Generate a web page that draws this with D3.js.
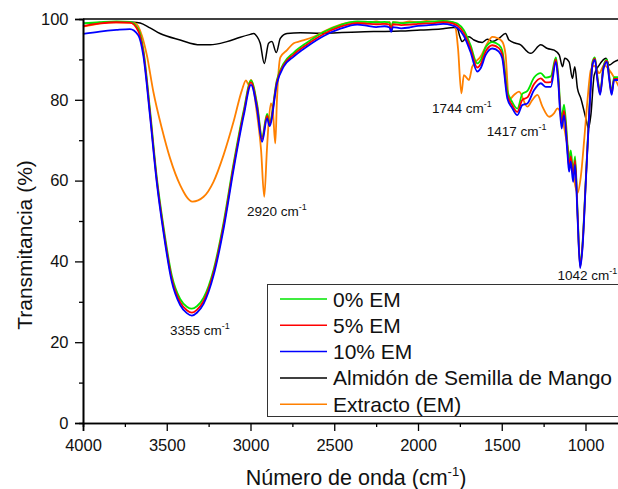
<!DOCTYPE html>
<html>
<head>
<meta charset="utf-8">
<script src="https://cdn.jsdelivr.net/npm/d3@7"></script>
<style>
  body { margin: 0; background: #fff; }
  svg text { font-family: "Liberation Sans", Arial, sans-serif; fill: #111; }
</style>
</head>
<body>
<div id="chart"></div>
<script>
// wavenumber grid shared by the three film samples
const filmWn = [4000, 3900, 3800, 3720, 3670, 3640, 3600, 3560, 3520, 3470, 3420, 3380, 3350, 3320, 3280, 3220, 3160, 3100, 3040, 2997, 2960, 2931, 2901, 2886, 2842, 2802, 2742, 2662, 2563, 2463, 2363, 2300, 2250, 2200, 2170, 2160, 2150, 2100, 2050, 2000, 1950, 1900, 1850, 1800, 1765, 1726, 1687, 1646, 1626, 1596, 1556, 1517, 1497, 1467, 1437, 1407, 1377, 1347, 1307, 1267, 1237, 1207, 1177, 1163, 1143, 1128, 1107, 1098, 1088, 1074, 1062, 1048, 1032, 1018, 998, 978, 958, 944, 928, 913, 892, 872, 859, 844, 829, 800];

const em0 = [98.9, 99.2, 99.4, 99.3, 97.5, 92.5, 77.5, 61.0, 48.8, 36.5, 30.7, 28.8, 28.3, 28.9, 31.0, 38.0, 49.8, 64.5, 77.5, 84.8, 78.8, 70.8, 76.5, 74.5, 85.0, 89.0, 91.7, 94.2, 96.8, 98.5, 99.4, 99.3, 99.2, 99.3, 99.1, 97.3, 99.2, 99.0, 99.1, 99.2, 99.3, 99.4, 99.5, 99.3, 98.9, 97.2, 93.6, 89.0, 89.8, 93.0, 94.3, 93.6, 92.2, 82.4, 79.4, 77.8, 81.5, 82.2, 85.5, 86.6, 85.5, 85.8, 90.5, 86.3, 75.4, 78.8, 68.8, 64.5, 67.5, 62.5, 66.0, 53.0, 39.0, 44.3, 60.5, 77.0, 89.5, 90.5, 85.5, 82.0, 88.5, 90.0, 86.2, 82.0, 85.6, 85.6];

const em5 = [98.2, 98.9, 99.2, 99.1, 97.0, 91.8, 76.7, 60.3, 48.0, 35.7, 29.9, 27.9, 27.3, 28.0, 30.2, 37.3, 49.0, 63.8, 76.9, 84.3, 78.2, 70.2, 76.0, 74.0, 84.6, 88.6, 91.2, 93.7, 96.3, 98.1, 99.0, 98.8, 98.7, 98.8, 98.6, 97.0, 98.7, 98.5, 98.6, 98.8, 98.9, 99.0, 99.2, 99.0, 98.4, 96.5, 92.8, 88.0, 88.8, 92.0, 93.5, 92.8, 91.2, 81.3, 78.6, 77.0, 80.0, 80.6, 83.9, 85.3, 84.3, 84.4, 90.0, 85.3, 74.0, 77.3, 67.5, 63.3, 66.0, 61.0, 65.0, 52.2, 38.6, 43.8, 60.1, 76.6, 89.0, 90.2, 85.0, 81.6, 88.1, 89.7, 85.7, 81.6, 85.2, 85.2];

const em10 = [96.3, 96.9, 97.3, 97.5, 96.0, 91.0, 76.0, 59.7, 47.3, 35.0, 29.2, 27.2, 26.6, 27.3, 29.5, 36.6, 48.2, 63.0, 76.2, 83.7, 77.5, 69.6, 75.4, 73.5, 84.1, 88.2, 90.7, 93.2, 95.8, 97.6, 98.6, 98.3, 98.0, 98.2, 97.9, 96.8, 98.0, 97.7, 97.9, 98.3, 98.4, 98.6, 98.8, 98.5, 97.8, 95.8, 91.9, 87.0, 87.8, 91.1, 92.7, 91.9, 90.3, 80.4, 77.9, 76.2, 78.7, 79.1, 82.4, 84.1, 83.2, 83.2, 89.4, 84.5, 72.9, 76.2, 66.3, 62.2, 64.7, 59.7, 63.9, 51.5, 38.3, 43.3, 59.7, 76.2, 88.6, 89.9, 84.5, 81.2, 87.8, 89.4, 85.3, 81.2, 84.9, 84.9];

// mango seed starch
const starchWn = [4000, 3800, 3700, 3659, 3600, 3540, 3420, 3300, 3241, 3141, 3061, 3001, 2982, 2962, 2942, 2918, 2892, 2872, 2846, 2822, 2782, 2702, 2583, 2264, 2104, 1985, 1865, 1786, 1765, 1750, 1736, 1716, 1696, 1666, 1616, 1586, 1556, 1517, 1477, 1457, 1417, 1387, 1347, 1327, 1267, 1227, 1187, 1157, 1137, 1124, 1098, 1078, 1064, 1048, 1028, 998, 982, 968, 948, 918, 878, 858, 829, 800];
const starch = [98.9, 99.2, 99.2, 99.0, 97.8, 96.4, 94.8, 93.6, 93.6, 94.4, 95.5, 96.2, 96.4, 95.7, 94.0, 89.0, 94.0, 94.4, 91.7, 95.2, 96.4, 96.6, 96.5, 96.9, 97.0, 97.3, 97.5, 97.9, 97.6, 95.6, 94.4, 95.2, 95.6, 94.8, 94.2, 95.0, 94.4, 95.2, 96.4, 94.8, 94.0, 93.6, 91.9, 91.5, 93.6, 92.7, 92.3, 91.1, 88.2, 90.3, 89.4, 85.3, 88.2, 82.8, 80.4, 75.4, 72.9, 76.2, 86.1, 88.6, 90.3, 88.6, 89.4, 89.9];

// mango extract (EM)
const extWn = [4000, 3819, 3689, 3649, 3619, 3580, 3529, 3480, 3420, 3346, 3280, 3221, 3161, 3101, 3051, 3027, 3012, 2997, 2962, 2937, 2918, 2902, 2892, 2878, 2866, 2852, 2842, 2822, 2782, 2742, 2702, 2622, 2563, 2383, 2300, 2250, 2200, 2170, 2160, 2150, 2100, 2050, 2000, 1950, 1900, 1850, 1795, 1775, 1761, 1741, 1726, 1696, 1676, 1626, 1586, 1556, 1527, 1497, 1477, 1457, 1427, 1397, 1347, 1317, 1287, 1257, 1217, 1187, 1167, 1137, 1107, 1078, 1048, 1028, 1008, 988, 968, 948, 918, 889, 859, 829, 800];
const extracto = [98.1, 99.2, 99.0, 96.0, 91.1, 82.0, 72.9, 65.5, 58.9, 54.8, 56.0, 59.7, 66.3, 74.6, 82.4, 84.8, 83.8, 84.9, 76.7, 67.6, 56.0, 67.6, 74.2, 79.1, 77.0, 69.2, 80.0, 90.5, 92.3, 94.0, 94.5, 95.6, 96.9, 99.2, 99.0, 99.4, 98.9, 99.3, 97.5, 99.2, 99.1, 99.4, 99.2, 99.5, 99.3, 99.4, 99.3, 97.7, 92.7, 81.6, 86.1, 84.9, 88.2, 90.7, 94.0, 95.6, 95.3, 94.4, 91.1, 80.0, 81.2, 82.0, 78.3, 80.0, 81.2, 78.3, 75.8, 76.7, 77.9, 75.0, 68.4, 62.6, 56.9, 61.0, 70.0, 80.0, 87.4, 88.4, 86.6, 88.6, 87.4, 85.5, 83.2];

const xTicks = [4000, 3500, 3000, 2500, 2000, 1500, 1000];
const yTicks = [0, 20, 40, 60, 80, 100];

const series = [
  { name: "0% EM", color: "#00e600", wn: filmWn, t: em0 },
  { name: "5% EM", color: "#ff0000", wn: filmWn, t: em5 },
  { name: "10% EM", color: "#0000ff", wn: filmWn, t: em10 },
  { name: "Almidón de Semilla de Mango", color: "#000000", wn: starchWn, t: starch },
  { name: "Extracto (EM)", color: "#ff8000", wn: extWn, t: extracto }
];

const peaks = [
  { label: "3355", wn: 3355, t: 26.6, dx: -21, dy: 19.5 },
  { label: "2920", wn: 2920, t: 56, dx: -17, dy: 19 },
  { label: "1744", wn: 1744, t: 81.6, dx: -29, dy: 20 },
  { label: "1417", wn: 1417, t: 76.2, dx: -29, dy: 21 },
  { label: "1042", wn: 1042, t: 38.3, dx: -21, dy: 12 }
];

const width = 618, height = 489;
const margin = { top: 19, right: -1, bottom: 66, left: 83 };

const svg = d3.select("#chart").append("svg")
  .attr("width", width)
  .attr("height", height);

const x = d3.scaleLinear()
  .domain([4000, 800])
  .range([margin.left, width - margin.right]);

const y = d3.scaleLinear()
  .domain([0, 100])
  .range([height - margin.bottom, margin.top]);

// curves, black and orange go underneath the films
const line = d3.line()
  .x(d => x(d[0]))
  .y(d => y(d[1]))
  .curve(d3.curveMonotoneX);

const drawOrder = [3, 4, 0, 1, 2];
drawOrder.forEach(i => {
  const s = series[i];
  svg.append("path")
    .datum(s.wn.map((w, j) => [w, s.t[j]]))
    .attr("d", line)
    .attr("fill", "none")
    .attr("stroke", s.color)
    .attr("stroke-width", i == 3 ? 1.5 : 1.8)
    .attr("stroke-linejoin", "round");
});

// frame
svg.append("line")
  .attr("x1", x(4000)).attr("x2", x(800))
  .attr("y1", y(100)).attr("y2", y(100))
  .attr("stroke", "#000").attr("stroke-width", 1.3);
svg.append("line")
  .attr("x1", x(800)).attr("x2", x(800))
  .attr("y1", y(100)).attr("y2", y(0))
  .attr("stroke", "#000").attr("stroke-width", 1.3);

// axes
const xAxis = d3.axisBottom(x).tickValues(xTicks).tickSize(8).tickPadding(8).tickFormat(d3.format("d"));
svg.append("g")
  .attr("transform", `translate(0,${y(0)})`)
  .call(xAxis);
svg.append("g")
  .attr("transform", `translate(0,${y(0)})`)
  .call(d3.axisBottom(x).tickValues(d3.range(3750, 800, -500)).tickSize(4).tickFormat(""));

const yAxis = d3.axisLeft(y).tickValues(yTicks).tickSize(8).tickPadding(6.5);
svg.append("g")
  .attr("transform", `translate(${x(4000)},0)`)
  .call(yAxis);
svg.append("g")
  .attr("transform", `translate(${x(4000)},0)`)
  .call(d3.axisLeft(y).tickValues([10, 30, 50, 70, 90]).tickSize(4).tickFormat(""));

svg.selectAll(".domain").attr("stroke", "#000").attr("stroke-width", 1.6);
svg.selectAll(".tick line").attr("stroke", "#000").attr("stroke-width", 1.3);
svg.selectAll(".tick text")
  .attr("font-size", 16.5)
  .attr("font-family", "Liberation Sans, Arial, sans-serif")
  .attr("fill", "#111");

// axis titles
const xt = svg.append("text")
  .attr("x", 356)
  .attr("y", 485)
  .attr("text-anchor", "middle")
  .attr("font-size", 21.5);
xt.append("tspan").text("Número de onda (cm");
xt.append("tspan").attr("dy", -9).attr("font-size", 13).text("-1");
xt.append("tspan").attr("dy", 9).text(")");

svg.append("text")
  .attr("transform", "translate(32,245) rotate(-90)")
  .attr("text-anchor", "middle")
  .attr("font-size", 21)
  .text("Transmitancia (%)");

// peak labels
peaks.forEach(p => {
  const t = svg.append("text")
    .attr("x", x(p.wn) + p.dx)
    .attr("y", y(p.t) + p.dy)
    .attr("font-size", 13.5)
    .attr("fill", "#222");
  t.append("tspan").text(p.label + " cm");
  t.append("tspan").attr("dy", -6).attr("font-size", 9).text("-1");
});

// legend
const lg = svg.append("g");
lg.append("rect")
  .attr("x", 267.5).attr("y", 284.5)
  .attr("width", 360).attr("height", 132)
  .attr("fill", "#fff")
  .attr("stroke", "#333")
  .attr("stroke-width", 1);

series.forEach((s, i) => {
  const ry = 299 + i * 26.3;
  lg.append("line")
    .attr("x1", 280).attr("x2", 327)
    .attr("y1", ry).attr("y2", ry)
    .attr("stroke", s.color)
    .attr("stroke-width", 1.5);
  lg.append("text")
    .attr("x", 333)
    .attr("y", ry + 7.5)
    .attr("font-size", 21)
    .text(s.name);
});
</script>
</body>
</html>
